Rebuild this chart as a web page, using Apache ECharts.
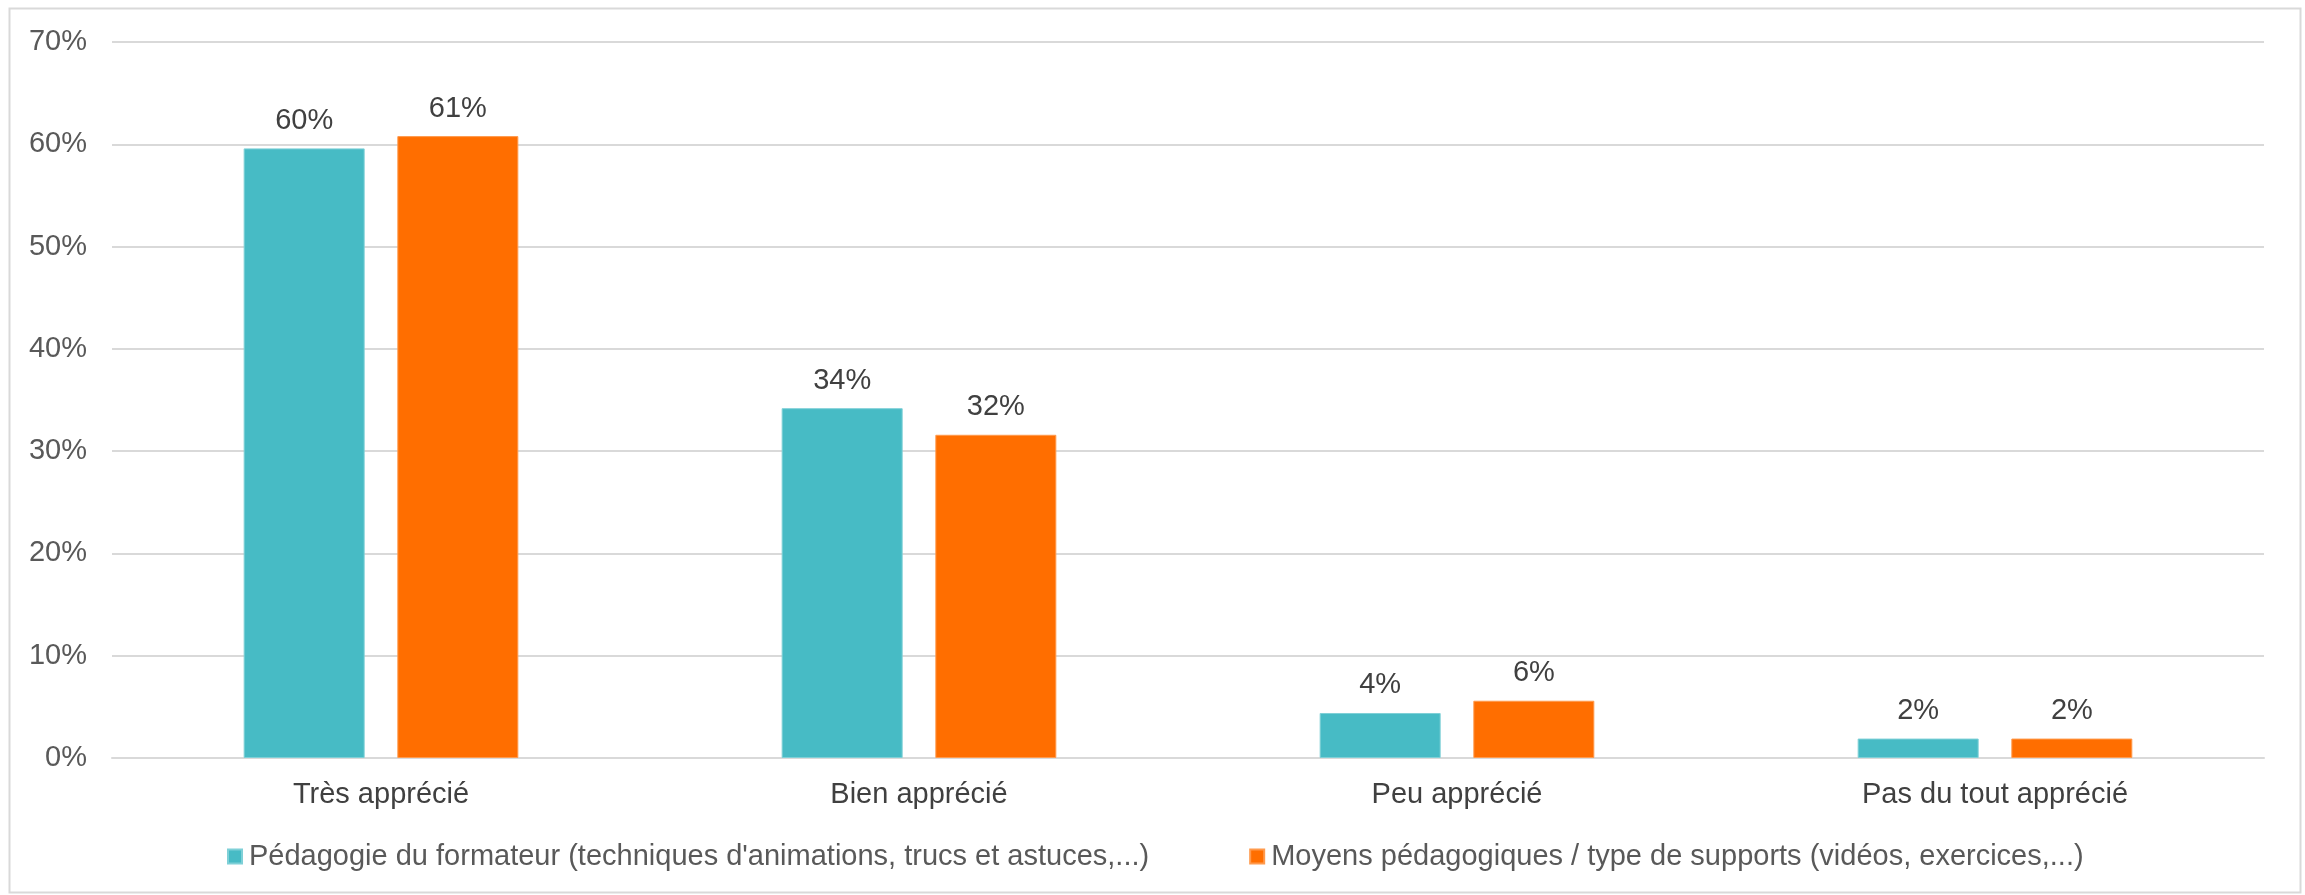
<!DOCTYPE html>
<html>
<head>
<meta charset="utf-8">
<script src="https://cdn.jsdelivr.net/npm/echarts@6/dist/echarts.min.js"></script>
<style>
html,body{margin:0;padding:0;background:#fff;}
#chart{width:2305px;height:895px;}
</style>
</head>
<body>
<div id="chart"></div>
<script>
const categories = ['Très apprécié', 'Bien apprécié', 'Peu apprécié', 'Pas du tout apprécié'];
const seriesNames = [
  "Pédagogie du formateur (techniques d'animations, trucs et astuces,...)",
  "Moyens pédagogiques / type de supports (vidéos, exercices,...)"
];
const pedagogieFormateur = [59.6, 34.2, 4.4, 1.9];
const moyensPedagogiques = [60.8, 31.6, 5.6, 1.9];
const yTicks = { min: 0, max: 70, interval: 10 };

const FONT = 'Arial, "Liberation Sans", sans-serif';
const chart = echarts.init(document.getElementById('chart'));
const labelCfg = {
  show: true, position: 'top', distance: 13,
  color: '#404040', fontSize: 29, fontFamily: FONT,
  formatter: p => Math.round(p.value) + '%'
};
chart.setOption({
  animation: false,
  backgroundColor: '#ffffff',
  graphic: [{
    type: 'rect', left: 7, top: 6, z: -1,
    shape: { width: 2291, height: 884 },
    style: { fill: 'none', stroke: '#d9d9d9', lineWidth: 2 }
  }],
  grid: { left: 112, right: 41, top: 42, bottom: 137, containLabel: false },
  legend: {
    left: 222, top: 837,
    itemWidth: 14, itemHeight: 14, itemGap: 100,
    icon: 'rect',
    textStyle: { color: '#595959', fontSize: 29, fontFamily: FONT, padding: [0, 0, 0, 2] },
    data: seriesNames
  },
  xAxis: {
    type: 'category', data: categories,
    axisLine: { show: true, lineStyle: { color: '#d9d9d9', width: 2 } },
    axisTick: { show: false },
    axisLabel: { color: '#404040', fontSize: 29, fontFamily: FONT, margin: 22 }
  },
  yAxis: {
    type: 'value', min: yTicks.min, max: yTicks.max, interval: yTicks.interval,
    axisLine: { show: false }, axisTick: { show: false },
    splitLine: { lineStyle: { color: '#d9d9d9', width: 2 } },
    axisLabel: { color: '#595959', fontSize: 29, fontFamily: FONT, margin: 25, formatter: '{value}%' }
  },
  series: [
    {
      name: seriesNames[0], type: 'bar', data: pedagogieFormateur,
      barWidth: 121, barGap: '27%',
      itemStyle: { color: '#47bbc5', borderColor: '#7fd0d7', borderWidth: 1 },
      label: labelCfg
    },
    {
      name: seriesNames[1], type: 'bar', data: moyensPedagogiques,
      barWidth: 121, barGap: '27%',
      itemStyle: { color: '#ff6e00', borderColor: '#ff9a4d', borderWidth: 1 },
      label: labelCfg
    }
  ]
});
</script>
</body>
</html>
